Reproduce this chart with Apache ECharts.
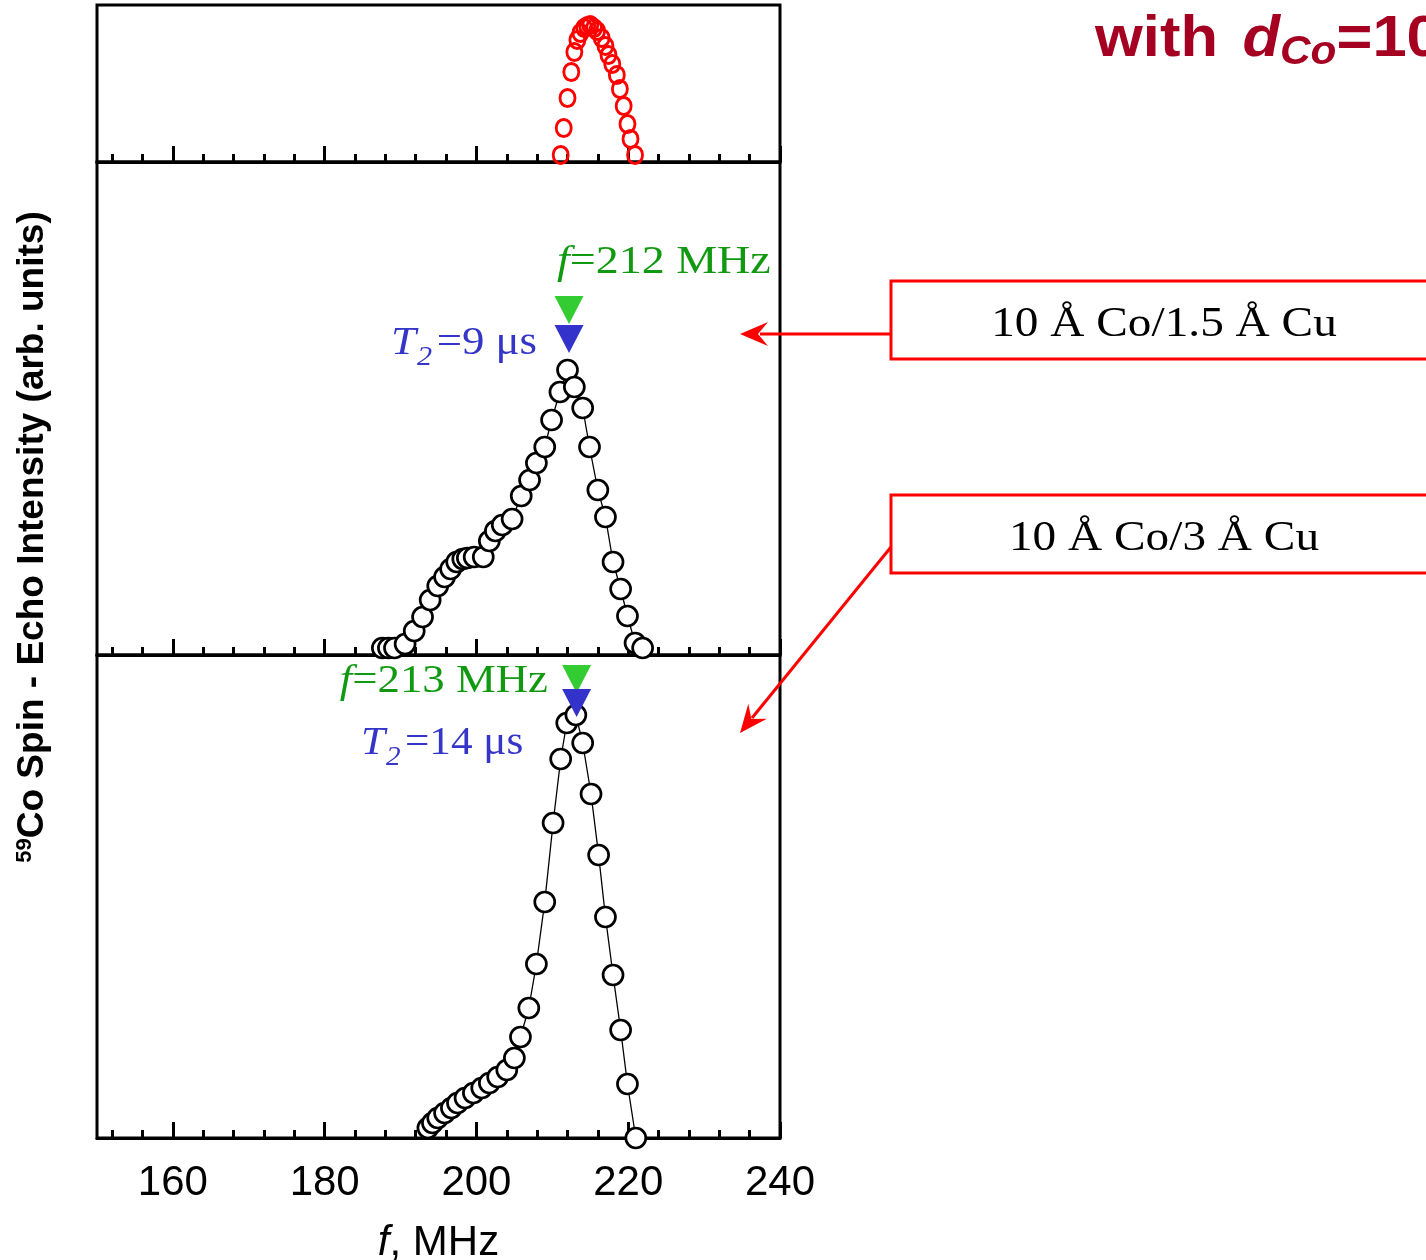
<!DOCTYPE html>
<html><head><meta charset="utf-8">
<script src="https://cdn.jsdelivr.net/npm/echarts@6/dist/echarts.min.js"></script>
<style>html,body{margin:0;padding:0;background:#fff;}#c{width:1426px;height:1260px;}</style>
</head><body><div id="c"></div>
<script>
// ---- data (frequency in MHz, echo intensity in arbitrary units) ----
const topF = [211.1,211.5,212.0,212.5,212.9,213.3,213.7,214.2,214.6,215.0,215.5,215.9,216.5,217.0,217.4,217.9,218.5,218.9,219.4,219.9,220.3,220.9];
const topI = [7,34,64,90,110,122,129,134,136,137,134,131,124,116,107,98,87,73,56,38,23,7];
const midF = [187.6,188.4,189.2,190.6,191.8,192.9,193.9,194.9,195.8,196.6,197.4,198.2,198.8,199.7,200.9,201.7,202.5,203.4,204.7,205.9,207.0,207.9,209.0,209.9,211.0,212.0,212.9,214.0,214.9,216.0,217.0,218.0,219.0,219.9,220.9,221.9];
const midI = [7,7,7,11,24,38,55,69,78,86,93,96,97,98,98,114,124,130,136,159,175,192,208,235,263,285,268,247,208,165,138,93,66,39,12,7];
const botF = [193.6,194.2,194.9,195.8,196.7,197.5,198.5,199.6,200.7,201.7,202.8,204.0,205.0,205.8,206.9,207.9,209.0,210.1,211.1,211.9,213.1,214.0,215.1,216.1,217.0,218.0,219.0,219.9,221.0];
const botI = [10,15,20,25,30,35,40,45,50,55,61,68,80,101,130,174,236,315,379,415,423,395,344,283,221,163,108,54,0];
// peak markers: [frequency, green marker level, blue marker level]
const midMark = [212.2, 345, 316];
const botMark = [213.2, 459, 435];
const peakText = ['212', '213'];
const t2Text = ['9', '14'];
const majorTicks = [160,180,200,220,240];
const minorTicks = [152,156,164,168,172,176,184,188,192,196,204,208,212,216,224,228,232,236];
const sampleLabels = ['10 Å Co/1.5 Å Cu', '10 Å Co/3 Å Cu'];

const zip = (a, b) => a.map((v, i) => [v, b[i]]);
const chart = echarts.init(document.getElementById('c'), null, {renderer: 'canvas'});

const grids = [
  {left: 97, right: 646, top: 5, height: 157},
  {left: 97, right: 646, top: 162, height: 493},
  {left: 97, right: 646, top: 655, height: 483}
].map(g => Object.assign(g, {show: true, borderColor: '#000', borderWidth: 3, backgroundColor: 'transparent',
  containLabel: false, outerBoundsMode: 'none'}));
const yMax = [157, 493, 483];

const labelFont = "'Liberation Sans Narrow','Arial Narrow','Liberation Sans',Arial,sans-serif";
const xAxes = [];
for (let g = 0; g < 3; g++) {
  xAxes.push({
    type: 'value', gridIndex: g, min: 150, max: 240, position: 'bottom',
    axisLine: {show: true, lineStyle: {color: '#000', width: 3}},
    axisTick: {show: true, inside: true, length: 16, customValues: majorTicks, lineStyle: {color: '#000', width: 3}},
    axisLabel: g === 2 ? {show: true, customValues: majorTicks, margin: 24, fontSize: 42, fontFamily: labelFont, color: '#000'} : {show: false},
    splitLine: {show: false},
    name: g === 2 ? '{i|f}, MHz' : '',
    nameLocation: 'middle', nameGap: 84,
    nameTextStyle: {fontSize: 42, fontFamily: labelFont, color: '#000', rich: {i: {fontStyle: 'italic', fontSize: 42, fontFamily: labelFont}}}
  });
  xAxes.push({
    type: 'value', gridIndex: g, min: 150, max: 240, position: 'bottom',
    axisLine: {show: false},
    axisTick: {show: true, inside: true, length: 8, customValues: minorTicks, lineStyle: {color: '#000', width: 3}},
    axisLabel: {show: false}, splitLine: {show: false}
  });
}
const yAxes = yMax.map((m, g) => ({type: 'value', gridIndex: g, min: 0, max: m, show: false}));

const blackLine = (f, i, ax, g) => ({
  type: 'line', xAxisIndex: ax, yAxisIndex: g, data: zip(f, i), clip: false,
  symbol: 'circle', symbolSize: 20, showAllSymbol: true,
  lineStyle: {color: '#000', width: 1.3},
  itemStyle: {color: '#fff', borderColor: '#000', borderWidth: 2.7, opacity: 1},
  z: 3
});
const triangles = (m, ax, g) => [
  {type: 'scatter', xAxisIndex: ax, yAxisIndex: g, data: [[m[0], m[1]]], symbol: 'triangle', symbolRotate: 180, symbolSize: [29, 28], itemStyle: {color: '#33cc33', opacity: 1}, z: 4},
  {type: 'scatter', xAxisIndex: ax, yAxisIndex: g, data: [[m[0], m[2]]], symbol: 'triangle', symbolRotate: 180, symbolSize: [29, 28], itemStyle: {color: '#3333cc', opacity: 1}, z: 5}
];

const serif = "'Liberation Serif','Times New Roman',serif";
const green = '#119a11', blue = '#3535c8', red = '#ff0000';
const annText = (x, y, text, color, align, size, sx) => ({
  type: 'text', x: x, y: y, scaleX: sx || 1.12,
  style: {text: text, fill: color, font: (size || 40) + 'px ' + serif, textAlign: align, textVerticalAlign: 'middle',
    rich: {i: {fontStyle: 'italic', fontSize: 40, fontFamily: serif, fill: color},
           s: {fontStyle: 'italic', fontSize: 27, fontFamily: serif, fill: color, padding: [30, 4, 0, 1]},
           n: {fontSize: 40, fontFamily: serif, fill: color}}}
});
const arrowHead = (tx, ty, dx, dy) => {
  const L = Math.hypot(dx, dy), ux = dx / L, uy = dy / L, px = -uy, py = ux;
  const len = 28, w = 12, notch = 18;
  return {type: 'polygon', shape: {points: [
    [tx, ty], [tx + ux * len + px * w, ty + uy * len + py * w],
    [tx + ux * notch, ty + uy * notch], [tx + ux * len - px * w, ty + uy * len - py * w]]},
    style: {fill: red}};
};
const titleFont = 'Liberation Sans, Arial, sans-serif';

const option = {
  animation: false,
  grid: grids,
  xAxis: xAxes,
  yAxis: yAxes,
  series: [
    {type: 'scatter', xAxisIndex: 0, yAxisIndex: 0, data: zip(topF, topI), symbol: 'circle', symbolSize: [15, 17],
     itemStyle: {color: 'rgba(255,255,255,0)', borderColor: red, borderWidth: 3, opacity: 1}, z: 3},
    blackLine(midF, midI, 2, 1),
    blackLine(botF, botI, 4, 2),
    ...triangles(midMark, 2, 1),
    ...triangles(botMark, 4, 2)
  ],
  graphic: [
    annText(557, 262, '{i|f}{n|=' + peakText[0] + ' MHz}', green, 'left', 40, 1.15),
    annText(537, 343, '{i|T}{s|2}{n|=' + t2Text[0] + ' μs}', blue, 'right'),
    annText(548, 681, '{i|f}{n|=' + peakText[1] + ' MHz}', green, 'right'),
    annText(361, 743, '{i|T}{s|2}{n|=' + t2Text[1] + ' μs}', blue, 'left', 40, 1.08),
    {type: 'rect', shape: {x: 891, y: 281, width: 600, height: 78}, style: {fill: 'none', stroke: red, lineWidth: 3}},
    {type: 'rect', shape: {x: 891, y: 495, width: 600, height: 78}, style: {fill: 'none', stroke: red, lineWidth: 3}},
    annText(1164, 325, sampleLabels[0], '#000', 'center', 43, 1.1),
    annText(1164, 539, sampleLabels[1], '#000', 'center', 43, 1.1),
    {type: 'line', shape: {x1: 891, y1: 334, x2: 760, y2: 334}, style: {stroke: red, lineWidth: 3}},
    arrowHead(740, 334, 150, 0),
    {type: 'line', shape: {x1: 891, y1: 547, x2: 752, y2: 718}, style: {stroke: red, lineWidth: 3}},
    arrowHead(740, 733, 151, -186),
    {type: 'text', x: 33, y: 537, rotation: Math.PI / 2,
     style: {text: '{sup|59}Co Spin - Echo Intensity (arb. units)', fill: '#000', font: 'bold 37px ' + titleFont,
       textAlign: 'center', textVerticalAlign: 'middle',
       rich: {sup: {fontSize: 22, fontWeight: 'bold', fontFamily: titleFont, padding: [0, 0, 16, 0]}}}},
    {type: 'text', x: 1095, y: 40, scaleX: 1.06,
     style: {text: 'with {d|d}{co|Co}=10 Å', fill: '#a50021', font: 'bold 58px ' + titleFont,
       textAlign: 'left', textVerticalAlign: 'middle',
       rich: {d: {fontStyle: 'italic', fontWeight: 'bold', fontSize: 58, fontFamily: titleFont, fill: '#a50021', padding: [0, 0, 0, 7]},
              co: {fontStyle: 'italic', fontWeight: 'bold', fontSize: 40, fontFamily: titleFont, fill: '#a50021', padding: [26, 0, 0, 0]}}}}
  ]
};
chart.setOption(option);
</script></body></html>
